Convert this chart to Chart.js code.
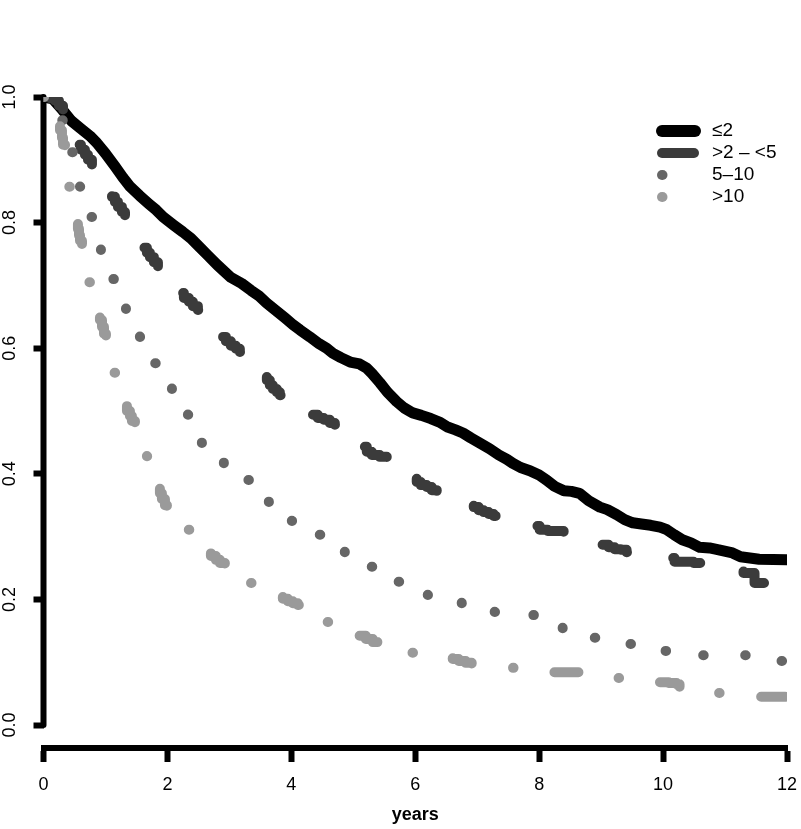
<!DOCTYPE html>
<html><head><meta charset="utf-8">
<script src="https://cdn.jsdelivr.net/npm/chart.js@4.4.0/dist/chart.umd.min.js"></script>
<style>html,body{margin:0;padding:0;background:#fff;}</style>
</head><body>
<canvas id="c" width="801" height="829"></canvas>
<script>
// ---- data ----
const seriesNames = ['\u22642', '>2 \u2013 <5', '5\u201310', '>10'];

const tLe2 = [0,0.15,0.31,0.45,0.60,0.75,0.86,1.00,1.15,1.28,1.40,1.55,1.70,1.82,1.93,2.10,2.25,2.38,2.52,2.65,2.80,2.90,3.02,3.20,3.35,3.48,3.60,3.75,3.90,4.02,4.14,4.30,4.45,4.57,4.67,4.80,4.95,5.10,5.22,5.30,5.43,5.55,5.70,5.82,5.96,6.10,6.25,6.40,6.51,6.65,6.77,6.90,7.04,7.20,7.35,7.48,7.57,7.70,7.85,8.00,8.12,8.25,8.40,8.52,8.65,8.80,8.98,9.10,9.25,9.38,9.51,9.65,9.80,9.95,10.06,10.18,10.31,10.45,10.59,10.75,10.90,11.12,11.25,11.40,11.55,12.00];
const sLe2 = [1.000,0.997,0.979,0.962,0.950,0.938,0.927,0.910,0.890,0.872,0.857,0.843,0.830,0.820,0.809,0.796,0.785,0.775,0.761,0.748,0.733,0.724,0.713,0.703,0.692,0.683,0.672,0.660,0.648,0.638,0.629,0.618,0.607,0.600,0.592,0.585,0.578,0.575,0.568,0.560,0.545,0.530,0.515,0.505,0.497,0.493,0.488,0.482,0.475,0.470,0.465,0.457,0.449,0.440,0.430,0.423,0.417,0.410,0.405,0.398,0.390,0.380,0.373,0.372,0.369,0.357,0.347,0.343,0.335,0.327,0.322,0.320,0.318,0.315,0.311,0.303,0.295,0.290,0.283,0.282,0.279,0.274,0.268,0.266,0.264,0.263];

const t2to5 = [0,0.105,0.185,0.25,0.315, 0.556,0.605,0.669,0.718,0.782, 1.105,1.153,1.202,1.266,1.315, 1.605,1.669,1.718,1.782,1.847, 2.202,2.266,2.347,2.411,2.492, 2.879,2.944,3.024,3.105,3.169, 3.605,3.653,3.702,3.766,3.815, 4.347,4.427,4.524,4.621,4.702, 5.153,5.218,5.298,5.427,5.540, 6.024,6.089,6.185,6.266,6.347, 6.944,7.024,7.105,7.185,7.266, 7.944,8.008,8.137,8.266,8.395, 9.024,9.121,9.218,9.315,9.411, 10.137,10.185,10.347,10.492,10.605, 11.298,11.444,11.476,11.669];
const s2to5 = [1.000,0.998,0.994,0.986,0.976, 0.924,0.916,0.908,0.900,0.892, 0.841,0.833,0.825,0.817,0.809, 0.760,0.752,0.745,0.737,0.729, 0.688,0.680,0.674,0.667,0.661, 0.618,0.611,0.604,0.599,0.594, 0.549,0.541,0.535,0.530,0.525, 0.494,0.489,0.486,0.481,0.478, 0.443,0.435,0.430,0.427,0.425, 0.387,0.382,0.379,0.374,0.371, 0.347,0.342,0.339,0.336,0.333, 0.317,0.311,0.309,0.309,0.307, 0.287,0.283,0.280,0.279,0.275, 0.266,0.260,0.260,0.258,0.258, 0.242,0.242,0.226,0.226];

const t5to10 = [0,0.298,0.46,0.589,0.766,0.927,1.121,1.331,1.556,1.798,2.073,2.331,2.556,2.911,3.298,3.637,4.008,4.444,4.863,5.298,5.718,6.202,6.750,7.282,7.895,8.379,8.879,9.460,10.04,10.637,11.315,11.895,12.0];
const s5to10 = [1.000,0.963,0.912,0.857,0.809,0.756,0.710,0.662,0.618,0.576,0.535,0.494,0.449,0.417,0.390,0.355,0.325,0.303,0.275,0.252,0.228,0.207,0.194,0.180,0.175,0.154,0.139,0.129,0.118,0.111,0.111,0.102,0.102];

const tGt10 = [0, 0.234,0.266,0.298,0.315,0.347, 0.395, 0.540,0.556,0.573,0.589,0.621, 0.734, 0.879,0.911,0.944,0.976,1.008, 1.137, 1.298,1.347,1.395,1.427,1.476, 1.669, 1.847,1.879,1.911,1.960,1.992, 2.331, 2.637,2.702,2.782,2.847,2.927, 3.331, 3.782,3.863,3.944,4.024,4.105, 4.573, 4.976,5.089,5.202,5.315,5.427, 5.944, 6.508,6.605,6.702,6.815,6.911, 7.556, 8.169,8.315,8.444,8.589,8.734, 9.250, 9.831,9.960,10.089,10.218,10.266, 10.879, 11.532,11.581,11.726,11.871,12.0];
const sGt10 = [1.000, 0.960,0.947,0.935,0.924,0.912, 0.857, 0.801,0.790,0.780,0.771,0.761, 0.705, 0.656,0.645,0.634,0.623,0.613, 0.561, 0.510,0.500,0.492,0.484,0.475, 0.428, 0.379,0.369,0.360,0.350,0.342, 0.311, 0.275,0.269,0.263,0.258,0.252, 0.226, 0.204,0.201,0.197,0.194,0.191, 0.164, 0.146,0.142,0.137,0.132,0.127, 0.115, 0.107,0.105,0.102,0.099,0.096, 0.091, 0.084,0.084,0.084,0.084,0.084, 0.075, 0.068,0.068,0.067,0.065,0.057, 0.051, 0.051,0.045,0.045,0.045,0.045];

const xTickValues = [0,2,4,6,8,10,12];
const xTickLabels = ['0','2','4','6','8','10','12'];
const yTickValues = [0,0.2,0.4,0.6,0.8,1.0];
const yTickLabels = ['0.0','0.2','0.4','0.6','0.8','1.0'];
const xAxisTitle = 'years';

// ---- styling ----
const FONT = '"Liberation Sans", Arial, Helvetica, sans-serif';
const colors = ['#000000', '#3b3b3b', '#666666', '#9a9a9a'];
const widths = [11, 10, 10, 10];
const dashes = [[], [32, 51.9], [0.5, 41.5], [0.5, 45.3, 24, 45.8]];
const steppedMode = [false, true, true, true];

function pts(t, s) { return t.map((x, i) => ({x: x, y: s[i]})); }
const allT = [tLe2, t2to5, t5to10, tGt10];
const allS = [sLe2, s2to5, s5to10, sGt10];

const datasets = seriesNames.map((name, i) => ({
  label: name,
  data: pts(allT[i], allS[i]),
  borderColor: colors[i],
  backgroundColor: colors[i],
  borderWidth: widths[i],
  borderDash: dashes[i],
  borderCapStyle: 'round',
  borderJoinStyle: 'round',
  stepped: steppedMode[i],
  tension: 0,
  pointRadius: 0,
  pointHoverRadius: 0,
  fill: false,
  order: 4 - i
}));

const yAxisLinePlugin = {
  id: 'yAxisLine',
  beforeDatasetsDraw(chart) {
    const ctx = chart.ctx, y = chart.scales.y, x = chart.chartArea.left;
    ctx.save();
    ctx.strokeStyle = '#000'; ctx.lineWidth = 6; ctx.lineCap = 'round';
    ctx.beginPath();
    ctx.moveTo(x, y.getPixelForValue(yTickValues[yTickValues.length - 1]));
    ctx.lineTo(x, y.getPixelForValue(yTickValues[0]));
    ctx.stroke();
    ctx.restore();
  }
};

const legendPlugin = {
  id: 'rLegend',
  afterDraw(chart) {
    const ctx = chart.ctx;
    const x0 = 662, x1 = 695, tx = 712, y0 = 131, dy = 22;
    ctx.save();
    seriesNames.forEach((name, i) => {
      const yy = y0 + i * dy;
      ctx.strokeStyle = colors[i]; ctx.lineWidth = i === 0 ? 12 : widths[i]; ctx.lineCap = 'round';
      ctx.setLineDash(dashes[i].length ? dashes[i] : []);
      ctx.beginPath(); ctx.moveTo(x0, yy); ctx.lineTo(x1, yy); ctx.stroke();
      ctx.setLineDash([]);
      ctx.fillStyle = '#000';
      ctx.font = '19px ' + FONT;
      ctx.textAlign = 'left'; ctx.textBaseline = 'middle';
      ctx.fillText(name, tx, yy);
    });
    ctx.restore();
  }
};

new Chart(document.getElementById('c'), {
  type: 'line',
  data: { datasets: datasets },
  options: {
    responsive: false,
    animation: false,
    devicePixelRatio: 1,
    layout: { padding: { top: 97, right: 14, bottom: 0, left: 0 } },
    plugins: { legend: { display: false }, tooltip: { enabled: false } },
    scales: {
      x: {
        type: 'linear', min: 0, max: 12,
        afterBuildTicks: s => { s.ticks = xTickValues.map(v => ({value: v})); },
        afterFit: s => { s.height = 81; s.paddingLeft = 0; s.paddingRight = 0; },
        ticks: { callback: (v, i) => xTickLabels[i], color: '#000', font: { size: 18, family: FONT }, padding: 12, maxRotation: 0, autoSkip: false },
        grid: { drawOnChartArea: false, drawTicks: true, tickLength: 14, tickWidth: 6, tickColor: '#000' },
        border: { display: true, color: '#000', width: 6 },
        title: { display: true, text: xAxisTitle, color: '#000', font: { size: 18, weight: 'bold', family: FONT }, padding: { top: 0, bottom: 3 } }
      },
      y: {
        type: 'linear', min: -0.0366, max: 1,
        afterBuildTicks: s => { s.ticks = yTickValues.map(v => ({value: v})); },
        afterFit: s => { s.width = 43.5; s.paddingTop = 0; s.paddingBottom = 0; },
        ticks: { callback: (v, i) => yTickLabels[i], color: '#000', font: { size: 18, family: FONT }, padding: 10.5, minRotation: 90, maxRotation: 90, crossAlign: 'center', autoSkip: false },
        grid: { drawOnChartArea: false, drawTicks: true, tickLength: 10, tickWidth: 6, tickColor: '#000' },
        border: { display: false }
      }
    }
  },
  plugins: [yAxisLinePlugin, legendPlugin]
});
</script>
</body></html>
